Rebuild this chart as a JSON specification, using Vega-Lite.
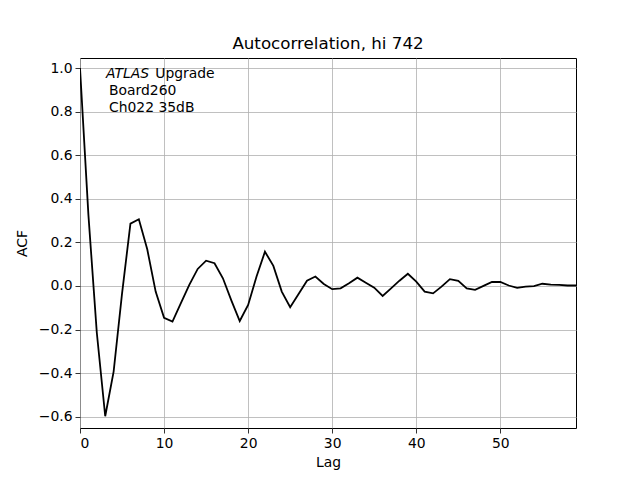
{
  "$schema": "https://vega.github.io/schema/vega-lite/v6.json",
  "width": 496,
  "height": 370,
  "autosize": {"type": "none"},
  "padding": {"left": 80, "top": 58, "right": 64, "bottom": 52},
  "background": "white",
  "config": {
    "font": "DejaVu Sans",
    "view": {"stroke": "black", "strokeWidth": 1},
    "axis": {
      "grid": true,
      "gridColor": "#b0b0b0",
      "gridWidth": 0.8,
      "domain": false,
      "tickColor": "black",
      "tickSize": 5,
      "tickWidth": 0.8,
      "labelFont": "DejaVu Sans",
      "labelFontSize": 13.9,
      "labelColor": "black",
      "labelPadding": 3,
      "titleFont": "DejaVu Sans",
      "titleFontSize": 13.9,
      "titleFontWeight": "normal",
      "titleColor": "black"
    }
  },
  "title": {
    "text": "Autocorrelation, hi 742",
    "font": "DejaVu Sans",
    "fontSize": 16.7,
    "fontWeight": "normal",
    "color": "black",
    "offset": 5
  },
  "datasets": {
    "acf": [
      {"lag": 0, "acf": 1.0},
      {"lag": 1, "acf": 0.326},
      {"lag": 2, "acf": -0.215},
      {"lag": 3, "acf": -0.598},
      {"lag": 4, "acf": -0.393},
      {"lag": 5, "acf": -0.035},
      {"lag": 6, "acf": 0.286},
      {"lag": 7, "acf": 0.306},
      {"lag": 8, "acf": 0.168},
      {"lag": 9, "acf": -0.026},
      {"lag": 10, "acf": -0.146},
      {"lag": 11, "acf": -0.164},
      {"lag": 12, "acf": -0.079},
      {"lag": 13, "acf": 0.005},
      {"lag": 14, "acf": 0.078},
      {"lag": 15, "acf": 0.116},
      {"lag": 16, "acf": 0.104},
      {"lag": 17, "acf": 0.035},
      {"lag": 18, "acf": -0.066},
      {"lag": 19, "acf": -0.161},
      {"lag": 20, "acf": -0.087},
      {"lag": 21, "acf": 0.043},
      {"lag": 22, "acf": 0.157},
      {"lag": 23, "acf": 0.092},
      {"lag": 24, "acf": -0.026},
      {"lag": 25, "acf": -0.098},
      {"lag": 26, "acf": -0.037},
      {"lag": 27, "acf": 0.024},
      {"lag": 28, "acf": 0.043},
      {"lag": 29, "acf": 0.009},
      {"lag": 30, "acf": -0.015},
      {"lag": 31, "acf": -0.011},
      {"lag": 32, "acf": 0.012},
      {"lag": 33, "acf": 0.038},
      {"lag": 34, "acf": 0.015},
      {"lag": 35, "acf": -0.008},
      {"lag": 36, "acf": -0.046},
      {"lag": 37, "acf": -0.011},
      {"lag": 38, "acf": 0.024},
      {"lag": 39, "acf": 0.056},
      {"lag": 40, "acf": 0.02},
      {"lag": 41, "acf": -0.026},
      {"lag": 42, "acf": -0.034},
      {"lag": 43, "acf": -0.003},
      {"lag": 44, "acf": 0.031},
      {"lag": 45, "acf": 0.023},
      {"lag": 46, "acf": -0.011},
      {"lag": 47, "acf": -0.018},
      {"lag": 48, "acf": 0.0},
      {"lag": 49, "acf": 0.018},
      {"lag": 50, "acf": 0.018},
      {"lag": 51, "acf": 0.002},
      {"lag": 52, "acf": -0.009},
      {"lag": 53, "acf": -0.003},
      {"lag": 54, "acf": -0.001},
      {"lag": 55, "acf": 0.01},
      {"lag": 56, "acf": 0.006},
      {"lag": 57, "acf": 0.005},
      {"lag": 58, "acf": 0.002},
      {"lag": 59, "acf": 0.002}
    ],
    "italic": [
      {"lag": 3.1, "acf": 0.972, "text": "ATLAS"}
    ],
    "plain": [
      {"lag": 8.95, "acf": 0.972, "text": "Upgrade"},
      {"lag": 3.45, "acf": 0.893, "text": "Board260"},
      {"lag": 3.45, "acf": 0.815, "text": "Ch022 35dB"}
    ]
  },
  "layer": [
    {
      "data": {"name": "acf"},
      "mark": {"type": "line", "color": "black", "strokeWidth": 1.8, "clip": true},
      "encoding": {
        "x": {
          "field": "lag",
          "type": "quantitative",
          "title": "Lag",
          "scale": {"domain": [0, 59], "nice": false, "zero": false},
          "axis": {"values": [0, 10, 20, 30, 40, 50], "format": "d", "titlePadding": 6}
        },
        "y": {
          "field": "acf",
          "type": "quantitative",
          "title": "ACF",
          "scale": {"domain": [-0.652, 1.046], "nice": false, "zero": false},
          "axis": {"values": [-0.6, -0.4, -0.2, 0.0, 0.2, 0.4, 0.6, 0.8, 1.0], "format": ".1f", "titlePadding": 9}
        }
      }
    },
    {
      "data": {"name": "italic"},
      "mark": {"type": "text", "align": "left", "baseline": "middle", "font": "DejaVu Sans", "fontSize": 13.9, "fontStyle": "italic", "color": "black"},
      "encoding": {
        "x": {"field": "lag", "type": "quantitative"},
        "y": {"field": "acf", "type": "quantitative"},
        "text": {"field": "text"}
      }
    },
    {
      "data": {"name": "plain"},
      "mark": {"type": "text", "align": "left", "baseline": "middle", "font": "DejaVu Sans", "fontSize": 13.9, "color": "black"},
      "encoding": {
        "x": {"field": "lag", "type": "quantitative"},
        "y": {"field": "acf", "type": "quantitative"},
        "text": {"field": "text"}
      }
    }
  ]
}
